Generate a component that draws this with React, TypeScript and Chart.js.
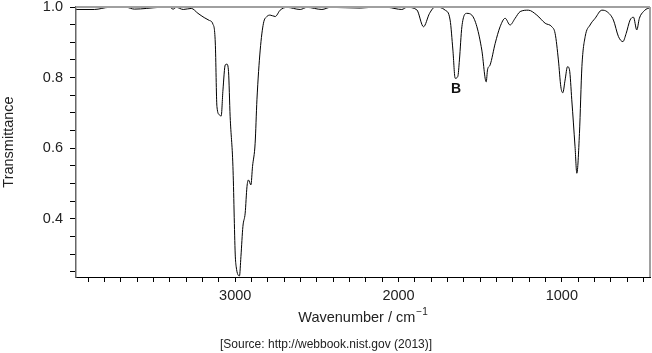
import React, { useEffect, useRef } from 'react';
import { Chart, registerables } from 'chart.js';

Chart.register(...registerables);

// ---- Data (wavenumber in cm^-1, transmittance) ----
const wavenumbers = [
  3973, 3863, 3771, 3667, 3618, 3465, 3404, 3380, 3361, 3318, 3269, 3228, 3190, 3159, 3137,
  3122, 3112, 3096, 3086, 3075, 3061, 3051, 3041, 3031, 3014, 3000, 2994, 2974, 2965, 2953,
  2939, 2928, 2919, 2904, 2894, 2878, 2867, 2847, 2827, 2806, 2786, 2755, 2725, 2684, 2602,
  2561, 2469, 2418, 2235, 2133, 2063, 1980, 1949, 1888, 1847, 1810, 1776, 1714, 1684, 1667,
  1653, 1637, 1627, 1612, 1582, 1551, 1520, 1490, 1463, 1455, 1439, 1408, 1378, 1347, 1317,
  1286, 1255, 1205, 1153, 1102, 1061, 1041, 1021, 1006, 994, 980, 965, 953, 939, 919,
  908, 892, 877, 857, 827, 796, 755, 724, 684, 653, 626, 606, 582, 561, 541,
  525, 500, 469, 460,
];
const transmittance = [
  0.993, 0.993, 0.999, 0.999, 0.994, 0.999, 1.0, 0.994, 0.999, 0.993, 0.996, 0.982, 0.970, 0.962, 0.952,
  0.898, 0.718, 0.694, 0.691, 0.765, 0.836, 0.838, 0.817, 0.689, 0.548, 0.300, 0.264, 0.238, 0.293, 0.378,
  0.416, 0.491, 0.510, 0.496, 0.548, 0.614, 0.737, 0.878, 0.954, 0.973, 0.977, 0.973, 0.991, 0.999, 0.993,
  0.999, 0.993, 0.999, 0.997, 1.0, 0.999, 0.993, 0.999, 0.992, 0.944, 0.982, 1.0, 0.991, 0.963, 0.878,
  0.798, 0.803, 0.850, 0.944, 0.982, 0.977, 0.944, 0.878, 0.788, 0.822, 0.836, 0.897, 0.944, 0.968, 0.949,
  0.968, 0.987, 0.991, 0.977, 0.954, 0.944, 0.925, 0.850, 0.774, 0.757, 0.793, 0.831, 0.822, 0.737, 0.604,
  0.529, 0.642, 0.831, 0.916, 0.949, 0.968, 0.991, 0.987, 0.963, 0.916, 0.902, 0.925, 0.963, 0.971, 0.935,
  0.968, 0.987, 0.996, 0.995,
];

// ---- Axes ----
const xMin = 460;
const xMax = 3975;
const yMin = 0.235;
const yMax = 1.0;
const xLabelTicks = [3000, 2000, 1000];
const xMinorStep = 100;
const yLabelTicks = [0.4, 0.6, 0.8, 1.0];
const yMinorStep = 0.05;

// ---- Text ----
const xTitle = 'Wavenumber / cm';
const xTitleSup = '\u22121';
const yTitle = 'Transmittance';
const sourceText = '[Source: http://webbook.nist.gov (2013)]';
const peakLabels = ['B'];
const peakX = [1647];
const peakY = [0.768];

const FONT_FAMILY = '"Liberation Sans", Arial, Helvetica, sans-serif';

export default function App() {
  const canvasRef = useRef<HTMLCanvasElement | null>(null);

  useEffect(() => {
    const canvas = canvasRef.current;
    if (!canvas) return;

    const points = wavenumbers.map((w, i) => ({ x: w, y: transmittance[i] }));

    const decorPlugin = {
      id: 'decor',
      afterDraw(chart: any) {
        const ctx = chart.ctx as CanvasRenderingContext2D;
        const area = chart.chartArea;
        const xs = chart.scales.x;
        const ys = chart.scales.y;
        ctx.save();
        // top and right frame (gray)
        ctx.strokeStyle = '#a0a0a0';
        ctx.lineWidth = 2;
        ctx.beginPath();
        ctx.moveTo(area.left, area.top);
        ctx.lineTo(area.right, area.top);
        ctx.moveTo(area.right, area.top);
        ctx.lineTo(area.right, area.bottom);
        ctx.stroke();

        ctx.fillStyle = '#222';
        // y title
        ctx.save();
        ctx.translate(9, (area.top + area.bottom) / 2);
        ctx.rotate(-Math.PI / 2);
        ctx.font = `14.5px ${FONT_FAMILY}`;
        ctx.textAlign = 'center';
        ctx.textBaseline = 'middle';
        ctx.fillText(yTitle, 0, 0);
        ctx.restore();

        // x title with superscript
        ctx.font = `14.5px ${FONT_FAMILY}`;
        const wMain = ctx.measureText(xTitle).width;
        ctx.font = `10px ${FONT_FAMILY}`;
        const wSup = ctx.measureText(xTitleSup).width;
        const cx = (area.left + area.right) / 2;
        const startX = cx - (wMain + wSup + 1) / 2;
        const ty = 318;
        ctx.textAlign = 'left';
        ctx.textBaseline = 'middle';
        ctx.font = `14.5px ${FONT_FAMILY}`;
        ctx.fillText(xTitle, startX, ty);
        ctx.font = `10px ${FONT_FAMILY}`;
        ctx.fillText(xTitleSup, startX + wMain + 1, ty - 6);

        // source
        ctx.font = `12px ${FONT_FAMILY}`;
        ctx.textAlign = 'center';
        ctx.fillText(sourceText, 326, 345);

        // peak labels
        ctx.font = `bold 14px ${FONT_FAMILY}`;
        ctx.fillStyle = '#111';
        peakLabels.forEach((t, i) => {
          ctx.fillText(t, xs.getPixelForValue(peakX[i]), ys.getPixelForValue(peakY[i]));
        });
        ctx.restore();
      },
    };

    const tickFont = { family: FONT_FAMILY, size: 14.5 };

    const chart = new Chart(canvas, {
      type: 'line',
      data: {
        datasets: [
          {
            data: points,
            borderColor: '#000',
            borderWidth: 1,
            pointRadius: 0,
            fill: false,
            cubicInterpolationMode: 'monotone',
          },
        ],
      },
      options: {
        responsive: false,
        animation: false,
        layout: { padding: { top: 7, right: 2, left: 0, bottom: 0 } },
        plugins: {
          legend: { display: false },
          tooltip: { enabled: false },
          title: { display: false },
        },
        scales: {
          x: {
            type: 'linear',
            reverse: true,
            min: xMin,
            max: xMax,
            grid: { drawOnChartArea: false, drawTicks: true, tickLength: 5, color: '#000' },
            border: { display: true, color: '#000', width: 1 },
            ticks: {
              autoSkip: false,
              maxRotation: 0,
              padding: 5,
              color: '#222',
              font: tickFont,
              callback: (v: any) => (xLabelTicks.includes(Number(v)) ? String(v) : ''),
            },
            afterBuildTicks: (scale: any) => {
              const t: any[] = [];
              for (let v = 500; v <= 3900; v += xMinorStep) t.push({ value: v });
              scale.ticks = t;
            },
            afterFit: (scale: any) => {
              scale.height = 76;
              scale.paddingLeft = 0;
              scale.paddingRight = 0;
            },
          },
          y: {
            type: 'linear',
            min: yMin,
            max: yMax,
            grid: { drawOnChartArea: false, drawTicks: true, tickLength: 6, color: '#000' },
            border: { display: true, color: '#666', width: 1.5 },
            ticks: {
              autoSkip: false,
              padding: 7,
              color: '#222',
              font: tickFont,
              callback: (v: any) => {
                const n = Math.round(Number(v) * 100) / 100;
                return yLabelTicks.some((t) => Math.abs(t - n) < 1e-6) ? n.toFixed(1) : '';
              },
            },
            afterBuildTicks: (scale: any) => {
              const t: any[] = [];
              for (let k = 5; k <= 20; k++) t.push({ value: Math.round(k * yMinorStep * 100) / 100 });
              scale.ticks = t;
            },
            afterFit: (scale: any) => {
              scale.width = 76;
              scale.paddingTop = 0;
              scale.paddingBottom = 0;
            },
          },
        },
      },
      plugins: [decorPlugin],
    } as any);

    return () => {
      chart.destroy();
    };
  }, []);

  return (
    <div style={{ position: 'fixed', left: 0, top: 0, width: 652, height: 353, background: '#fff' }}>
      <canvas ref={canvasRef} width={652} height={353} style={{ display: 'block' }} />
    </div>
  );
}
